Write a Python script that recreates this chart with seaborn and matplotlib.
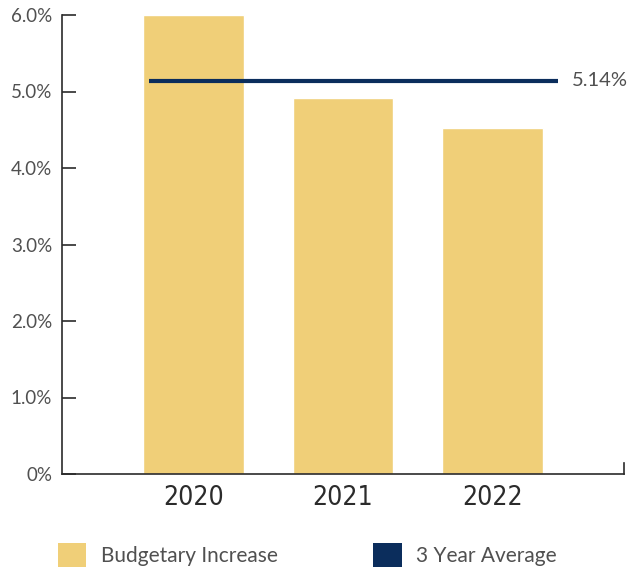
import matplotlib
matplotlib.use("Agg")
import matplotlib.pyplot as plt
from matplotlib.patches import Patch
import seaborn as sns
import pandas as pd

years = ["2020", "2021", "2022"]
budget_increase = [6.00, 4.92, 4.52]
three_year_avg = 5.14
y_ticks = [0, 1, 2, 3, 4, 5, 6]
y_tick_labels = ["0%", "1.0%", "2.0%", "3.0%", "4.0%", "5.0%", "6.0%"]

BAR_COLOR = "#F0CF78"
LINE_COLOR = "#0B2D5C"
AXIS_COLOR = "#2b2b2b"
LABEL_COLOR = "#505050"

sns.set_theme(style="white")
plt.rcParams["font.family"] = ["Lato", "DejaVu Sans"]

df = pd.DataFrame({"year": years, "increase": budget_increase})

fig = plt.figure(figsize=(6.31, 5.69), dpi=100)
ax = fig.add_axes([62 / 631, 1 - 474 / 569, (624 - 62) / 631, (474 - 15) / 569])

sns.barplot(data=df, x="year", y="increase", color=BAR_COLOR, width=0.675,
            saturation=1, ax=ax)

# three-year average line with its value label
ax.hlines(three_year_avg, -0.30, 2.44, color=LINE_COLOR, linewidth=3)
ax.text(2.53, three_year_avg, f"{three_year_avg:.2f}%", va="center", ha="left",
        fontsize=14.5, color=LABEL_COLOR)

ax.set_xlim(-0.88, 2.88)
ax.set_ylim(0, 6)
ax.set_yticks(y_ticks)
ax.set_yticklabels(y_tick_labels, fontsize=13.5, color=LABEL_COLOR)
ax.set_xticks(range(len(years)))
ax.set_xticklabels(years, fontsize=19, color=AXIS_COLOR,
                   family=["DejaVu Sans"], fontstretch="condensed")
ax.set_xlabel("")
ax.set_ylabel("")

ax.tick_params(axis="y", direction="in", length=10, width=1.2, color=AXIS_COLOR, pad=7, left=True)
ax.tick_params(axis="x", length=0, pad=8)

ax.spines["top"].set_visible(False)
for side in ("left", "bottom", "right"):
    ax.spines[side].set_color(AXIS_COLOR)
    ax.spines[side].set_linewidth(1.2)
ax.spines["right"].set_bounds(0, 0.15)

handles = [Patch(facecolor=BAR_COLOR, edgecolor="none", label="Budgetary Increase"),
           Patch(facecolor=LINE_COLOR, edgecolor="none", label="3 Year Average")]
leg = fig.legend(handles=handles, loc="center left", bbox_to_anchor=(58 / 631, 1 - 555 / 569),
                 ncol=2, frameon=False, fontsize=15, handlelength=1.35, handleheight=1.35,
                 handletextpad=0.7, columnspacing=4.6, borderpad=0, borderaxespad=0)
for t in leg.get_texts():
    t.set_color(LABEL_COLOR)

fig.savefig("out.png", dpi=100)
